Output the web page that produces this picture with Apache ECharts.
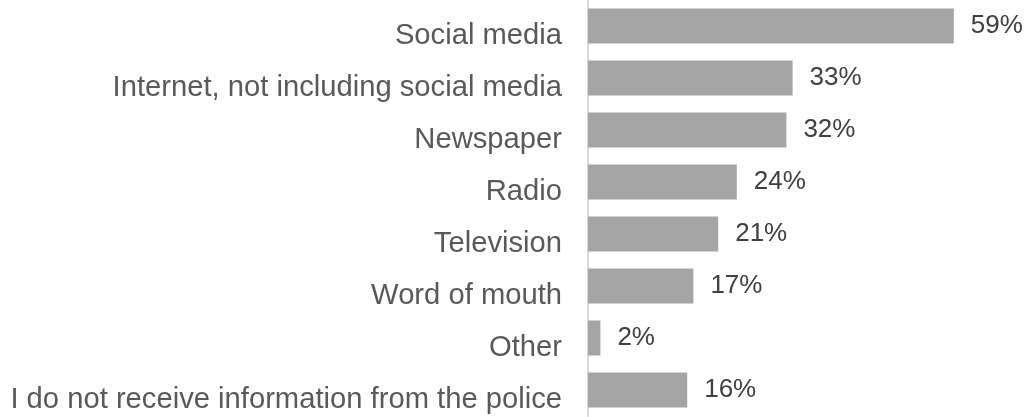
<!DOCTYPE html>
<html>
<head>
<meta charset="utf-8">
<script src="https://cdn.jsdelivr.net/npm/echarts@6/dist/echarts.min.js"></script>
<style>
  html, body { margin: 0; padding: 0; background: #ffffff; }
  #chart { width: 1027px; height: 417px; }
</style>
</head>
<body>
<div id="chart"></div>
<script>
// Sources of police information, share of respondents (%)
const categories = [
  'Social media',
  'Internet, not including social media',
  'Newspaper',
  'Radio',
  'Television',
  'Word of mouth',
  'Other',
  'I do not receive information from the police'
];
const shares = [59, 33, 32, 24, 21, 17, 2, 16];

const chart = echarts.init(document.getElementById('chart'), null, { renderer: 'canvas' });

chart.setOption({
  animation: false,
  backgroundColor: '#ffffff',
  grid: { left: 588, top: 0, width: 434, height: 416, containLabel: false },
  xAxis: {
    type: 'value',
    min: 0,
    max: 70,
    show: false
  },
  yAxis: {
    type: 'category',
    data: categories,
    inverse: true,
    axisLine: { show: true, lineStyle: { color: '#d9d9d9', width: 2 } },
    axisTick: { show: false },
    axisLabel: {
      margin: 26,
      // category names sit slightly below the bar centre line
      verticalAlign: 'top',
      lineHeight: 19,
      fontFamily: 'Liberation Sans, Arial, sans-serif',
      fontSize: 29.2,
      color: '#595959'
    }
  },
  series: [{
    type: 'bar',
    data: shares,
    barWidth: 35,
    itemStyle: { color: '#a5a5a5' },
    label: {
      show: true,
      position: 'right',
      distance: 17,
      formatter: p => p.value + '%',
      fontFamily: 'Liberation Sans, Arial, sans-serif',
      fontSize: 26,
      color: '#404040'
    }
  }]
});
</script>
</body>
</html>
